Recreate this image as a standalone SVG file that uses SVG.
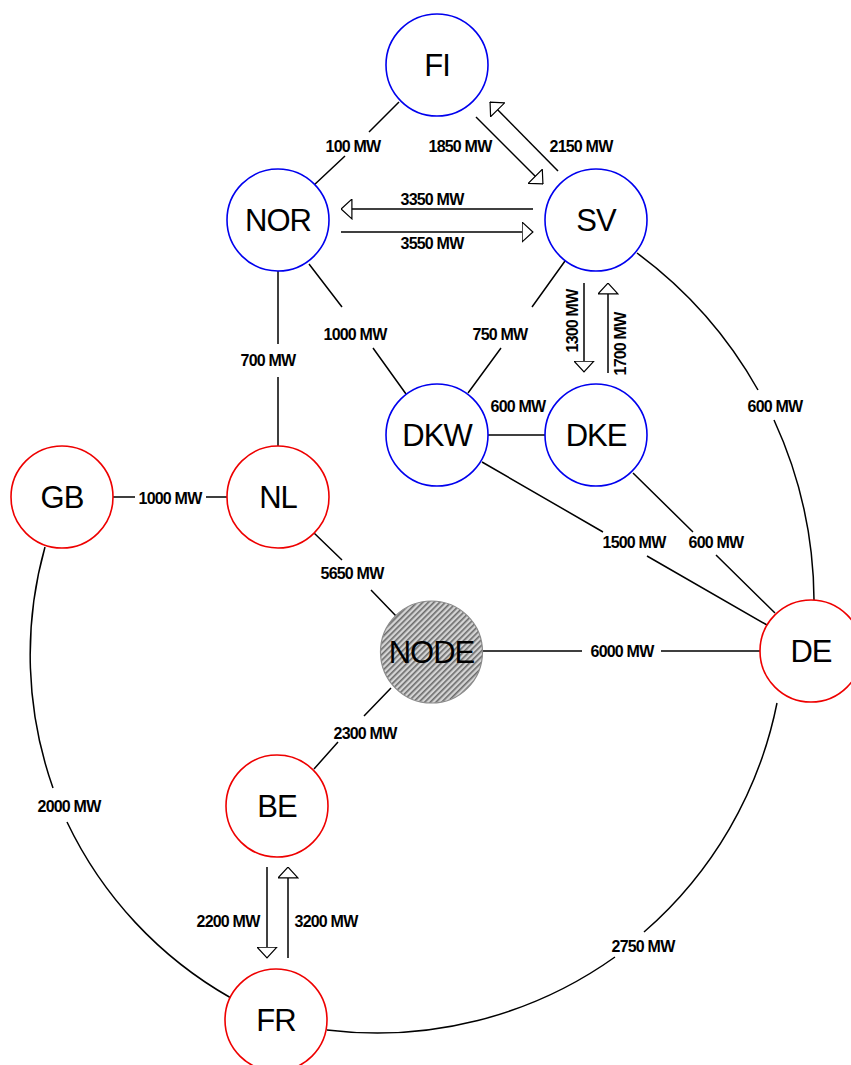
<svg xmlns="http://www.w3.org/2000/svg" width="851" height="1065" viewBox="0 0 851 1065">
<defs>
<style>
.blue{fill:#fff;stroke:#0000ee;stroke-width:1.6}
.red{fill:#fff;stroke:#ee0000;stroke-width:1.6}
.nl{font-family:"Liberation Sans",Arial,sans-serif;font-size:31px;text-anchor:middle;fill:#000;letter-spacing:-1px}
.el{font-family:"Liberation Sans",Arial,sans-serif;font-size:16px;font-weight:bold;text-anchor:middle;fill:#000;letter-spacing:-0.8px}
.c{fill:none;stroke:#000;stroke-width:1.5}
.a{fill:none;stroke:#000;stroke-width:1.5;marker-end:url(#ah)}
</style>
<marker id="ah" viewBox="0 0 12 21" refX="11.5" refY="10.5" markerWidth="12" markerHeight="21" markerUnits="userSpaceOnUse" orient="auto">
<path d="M0.6,0.6 L11.4,10.5 L0.6,20.4 Z" fill="#fff" stroke="#000" stroke-width="1.2"/>
</marker>
<pattern id="hatch" width="4" height="4" patternUnits="userSpaceOnUse" patternTransform="rotate(-45)">
<rect width="4" height="4" fill="#d4d4d4"/>
<rect width="4" height="1.6" fill="#6a6a6a"/>
</pattern>
</defs>
<rect width="851" height="1065" fill="#fff"/>
<g id="connectors">
<path class="c" d="M399 102 L369 132 M345 156 L313 186"/>
<path class="c" d="M309 264 L342 307 M373 348 L406 394"/>
<path class="c" d="M565 261 L532 307 M501 348 L468 393"/>
<path class="c" d="M488 435 L545 435"/>
<path class="c" d="M278 271 L278 344 M278 377 L278 446"/>
<path class="c" d="M113 497 L135 497 M206 497 L227 497"/>
<path class="c" d="M314 533 L342 560 M371 590 L396 616"/>
<path class="c" d="M483 651 L582 651 M661 651 L760 651"/>
<path class="c" d="M482 462 L603 532 M647 556 L767 625"/>
<path class="c" d="M633 473 L693 532 M716 555 L775 613"/>
<path class="c" d="M391 688 L364 716 M338 742 L314 769"/>
<path class="c" d="M637 253 A436 436 0 0 1 758 390 M774 420 A436 436 0 0 1 814 600"/>
<path class="c" d="M45 547 A400 400 0 0 0 53 788 M67 822 A400 400 0 0 0 231 998"/>
<path class="c" d="M327 1030 A410 410 0 0 0 615 957 M644 932 A410 410 0 0 0 777 703"/>
<path class="a" d="M533 209 L341 209"/>
<path class="a" d="M341 232 L533 232"/>
<path class="a" d="M476 117 L543 184"/>
<path class="a" d="M558 171 L490 102"/>
<path class="a" d="M584 283 L584 372"/>
<path class="a" d="M608 373 L608 283"/>
<path class="a" d="M267 867 L267 958"/>
<path class="a" d="M288 958 L288 867"/>
</g>
<g id="edge-labels">
<text class="el" x="353" y="152">100 MW</text>
<text class="el" x="460" y="152">1850 MW</text>
<text class="el" x="581" y="152">2150 MW</text>
<text class="el" x="432" y="205">3350 MW</text>
<text class="el" x="432" y="249">3550 MW</text>
<text class="el" x="355" y="340">1000 MW</text>
<text class="el" x="500" y="340">750 MW</text>
<text class="el" x="518" y="412">600 MW</text>
<text class="el" x="268" y="366">700 MW</text>
<text class="el" x="170" y="504">1000 MW</text>
<text class="el" x="352" y="579">5650 MW</text>
<text class="el" x="622" y="657">6000 MW</text>
<text class="el" x="634" y="548">1500 MW</text>
<text class="el" x="716" y="548">600 MW</text>
<text class="el" x="775" y="412">600 MW</text>
<text class="el" x="365" y="739">2300 MW</text>
<text class="el" x="69" y="812">2000 MW</text>
<text class="el" x="643" y="952">2750 MW</text>
<text class="el" x="228" y="927">2200 MW</text>
<text class="el" x="326" y="927">3200 MW</text>
<text class="el" transform="translate(572,321) rotate(-90)" y="6">1300 MW</text>
<text class="el" transform="translate(620,344) rotate(-90)" y="6">1700 MW</text>
</g>
<g id="FI"><circle class="blue" cx="437" cy="65" r="51"/><text class="nl" x="437" y="76">FI</text></g>
<g id="NOR"><circle class="blue" cx="278" cy="220" r="51"/><text class="nl" x="278" y="231">NOR</text></g>
<g id="SV"><circle class="blue" cx="596" cy="220" r="51"/><text class="nl" x="596" y="231">SV</text></g>
<g id="DKW"><circle class="blue" cx="437" cy="435" r="51"/><text class="nl" x="437" y="446">DKW</text></g>
<g id="DKE"><circle class="blue" cx="596" cy="435" r="51"/><text class="nl" x="596" y="446">DKE</text></g>
<g id="GB"><circle class="red" cx="62" cy="497" r="51"/><text class="nl" x="62" y="508">GB</text></g>
<g id="NL"><circle class="red" cx="278" cy="497" r="51"/><text class="nl" x="278" y="508">NL</text></g>
<g id="NODE"><circle cx="431.5" cy="652" r="51" fill="url(#hatch)" stroke="#8a8a8a" stroke-width="1.2"/><text class="nl" x="431.5" y="663">NODE</text></g>
<g id="DE"><circle class="red" cx="811" cy="651" r="51"/><text class="nl" x="811" y="662">DE</text></g>
<g id="BE"><circle class="red" cx="277" cy="806" r="51"/><text class="nl" x="277" y="817">BE</text></g>
<g id="FR"><circle class="red" cx="276" cy="1020" r="51"/><text class="nl" x="276" y="1031">FR</text></g>
</svg>
